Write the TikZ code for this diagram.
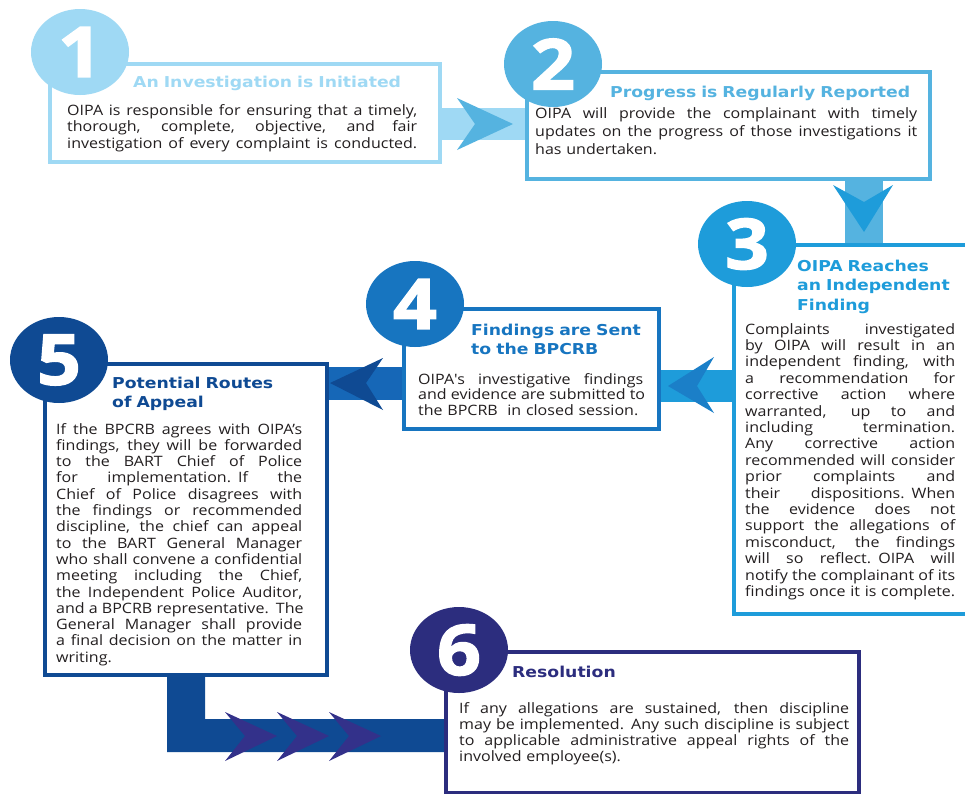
\documentclass[tikz,border=0pt]{standalone}
\usepackage{fontspec}
\setmainfont{Open Sans}
\usetikzlibrary{shapes.geometric}
\newfontfamily\bodyfont[FakeStretch=1.12]{Open Sans}
\newfontfamily\titlefont[FakeStretch=1.15]{DejaVu Sans Bold}
\newfontfamily\numfont[FakeStretch=1.1,FakeBold=2]{Open Sans Bold}
\definecolor{cA}{HTML}{9FD9F4}
\definecolor{cB}{HTML}{55B3E0}
\definecolor{cC}{HTML}{1E9CDA}
\definecolor{cCd}{HTML}{1B7FC8}
\definecolor{cD}{HTML}{1775C0}
\definecolor{cDb}{HTML}{1667B7}
\definecolor{cE}{HTML}{0F4A93}
\definecolor{cF}{HTML}{2C2D7E}
\definecolor{cChev}{HTML}{33318A}
\definecolor{ctext}{HTML}{231F20}
\newdimen\jlw
\jlw=100pt
\newcommand\jl[1]{\leavevmode\hbox to \jlw{\spaceskip=\fontdimen2\font plus 1fil\relax #1}}
\begin{document}
\begin{tikzpicture}[x=1pt,y=-1pt,
  box/.style={draw=#1, line width=3.5pt, fill=white, anchor=north west, inner sep=0pt},
  num/.style={ellipse, fill=#1, minimum width=98pt, minimum height=86pt, inner sep=0pt,
    text=white, font=\numfont\fontsize{70}{70}\selectfont},
  ttl/.style={anchor=base west, inner sep=0pt, align=left, text=#1, text width=420pt,
    font=\titlefont\fontsize{15}{19.5}\selectfont},
  body/.style={anchor=base west, inner sep=0pt, align=left, text=ctext,
    font=\bodyfont\fontsize{14.3}{#1}\selectfont},
  bw/.style={text width=#1, execute at begin node={\global\jlw=#1\relax}}]
\fill[white] (0,0) rectangle (965,793);
\useasboundingbox (0,0) rectangle (965,793);

% boxes (named nodes)
\node[box=cA, minimum width=390pt, minimum height=98pt] (b1) at (48,62) {};
\node[box=cB, minimum width=403pt, minimum height=107pt] (b2) at (525,70) {};
\node[box=cC, minimum width=240pt, minimum height=369pt] (b3) at (732,243) {};
\node[box=cD, minimum width=255pt, minimum height=120pt] (b4) at (402,307) {};
\node[box=cE, minimum width=282pt, minimum height=311pt] (b5) at (43,362) {};
\node[box=cF, minimum width=413pt, minimum height=141pt] (b6) at (444,650) {};

% connectors: bands
\fill[cA] (b1.east |- 0,108) rectangle (b2.west |- 0,140);
\fill[cB] (845,0 |- b2.south) rectangle (883,0 |- b3.north);
\fill[cC] (b4.east |- 0,370) rectangle (b3.west |- 0,402);
\fill[cDb] (b5.east |- 0,367) rectangle (b4.west |- 0,400);
\coordinate (Ltop) at (167,0 |- b5.south);
\fill[cE] (Ltop) -- (205,0 |- b5.south) -- (205,719) -- (b6.west |- 0,719)
  -- (b6.west |- 0,752) -- (167,752) -- cycle;

% chevrons
\fill[cB] (457,98) -- (513,124) -- (457,150) -- (475,124) -- cycle;
\fill[cC] (833,185) -- (864,232) -- (893,185) -- (864,202) -- cycle;
\fill[cCd] (714,357) -- (668,386) -- (714,413) -- (697,386) -- cycle;
\fill[cE] (383,358) -- (330,383) -- (383,410) -- (366,383) -- cycle;
\foreach \k in {0,1,2}{
  \fill[cChev] (225+52*\k,712) -- (277+52*\k,736) -- (225+52*\k,761) -- (245+52*\k,736) -- cycle;
}

% redraw box frames on top of the bands
\node[box=cA, minimum width=390pt, minimum height=98pt] at (48,62) {};
\node[box=cB, minimum width=403pt, minimum height=107pt] at (525,70) {};
\node[box=cC, minimum width=240pt, minimum height=369pt] at (732,243) {};
\node[box=cD, minimum width=255pt, minimum height=120pt] at (402,307) {};
\node[box=cE, minimum width=282pt, minimum height=311pt] at (43,362) {};
\node[box=cF, minimum width=413pt, minimum height=141pt] at (444,650) {};

% number circles
\node[num=cA] (n1) at (80,52) {1};
\node[num=cB] (n2) at (553,64) {2};
\node[num=cC] (n3) at (747,244) {3};
\node[num=cD] (n4) at (415,304) {4};
\node[num=cE] (n5) at (59,360) {5};
\node[num=cF] (n6) at (459,650) {6};

% titles
\node[ttl=cA] (t1) at (133,87) {An Investigation is Initiated};
\node[ttl=cB] (t2) at (610,97) {Progress is Regularly Reported};
\node[ttl=cC] (t3) at (797,271) {OIPA Reaches\\an Independent\\Finding};
\node[ttl=cD] (t4) at (471,335) {Findings are Sent\\to the BPCRB};
\node[ttl=cE] (t5) at (112,388) {Potential Routes\\of Appeal};
\node[ttl=cF] (t6) at (512,677) {Resolution};

% bodies
\node[body=16.5, bw=350pt] (x1) at (67,115) {%
\jl{OIPA is responsible for ensuring that a timely,}\\
\jl{thorough, complete, objective, and fair}\\
\jl{investigation of every complaint is conducted.}};

\node[body=18.3, bw=382pt] (x2) at (535,118) {%
\jl{OIPA will provide the complainant with timely}\\
\jl{updates on the progress of those investigations it}\\
has undertaken.};

\node[body=16.4, bw=210pt] (x3) at (745,334) {%
\jl{Complaints investigated}\\
\jl{by OIPA will result in an}\\
\jl{independent finding, with}\\
\jl{a recommendation for}\\
\jl{corrective action where}\\
\jl{warranted, up to and}\\
\jl{including termination.}\\
\jl{Any corrective action}\\
\jl{recommended will consider}\\
\jl{prior complaints and}\\
\jl{their dispositions. When}\\
\jl{the evidence does not}\\
\jl{support the allegations of}\\
\jl{misconduct, the findings}\\
\jl{will so reflect. OIPA will}\\
\jl{notify the complainant of its}\\
findings once it is complete.};

\node[body=15.5, bw=225pt] (x4) at (418,384) {%
\jl{OIPA\textquotesingle s investigative findings}\\
\jl{and evidence are submitted to}\\
the BPCRB~ in closed session.};

\node[body=16.3, bw=246pt] (x5) at (56,434) {%
\jl{If the BPCRB agrees with OIPA’s}\\
\jl{findings, they will be forwarded}\\
\jl{to the BART Chief of Police}\\
\jl{for implementation. If the}\\
\jl{Chief of Police disagrees with}\\
\jl{the findings or recommended}\\
\jl{discipline, the chief can appeal}\\
\jl{to the BART General Manager}\\
\jl{who shall convene a confidential}\\
\jl{meeting including the Chief,}\\
\jl{the Independent Police Auditor,}\\
\jl{and a BPCRB representative. The}\\
\jl{General Manager shall provide}\\
\jl{a final decision on the matter in}\\
writing.};

\node[body=16, bw=390pt] (x6) at (459,713) {%
\jl{If any allegations are sustained, then discipline}\\
\jl{may be implemented. Any such discipline is subject}\\
\jl{to applicable administrative appeal rights of the}\\
involved employee(s).};
\end{tikzpicture}
\end{document}
